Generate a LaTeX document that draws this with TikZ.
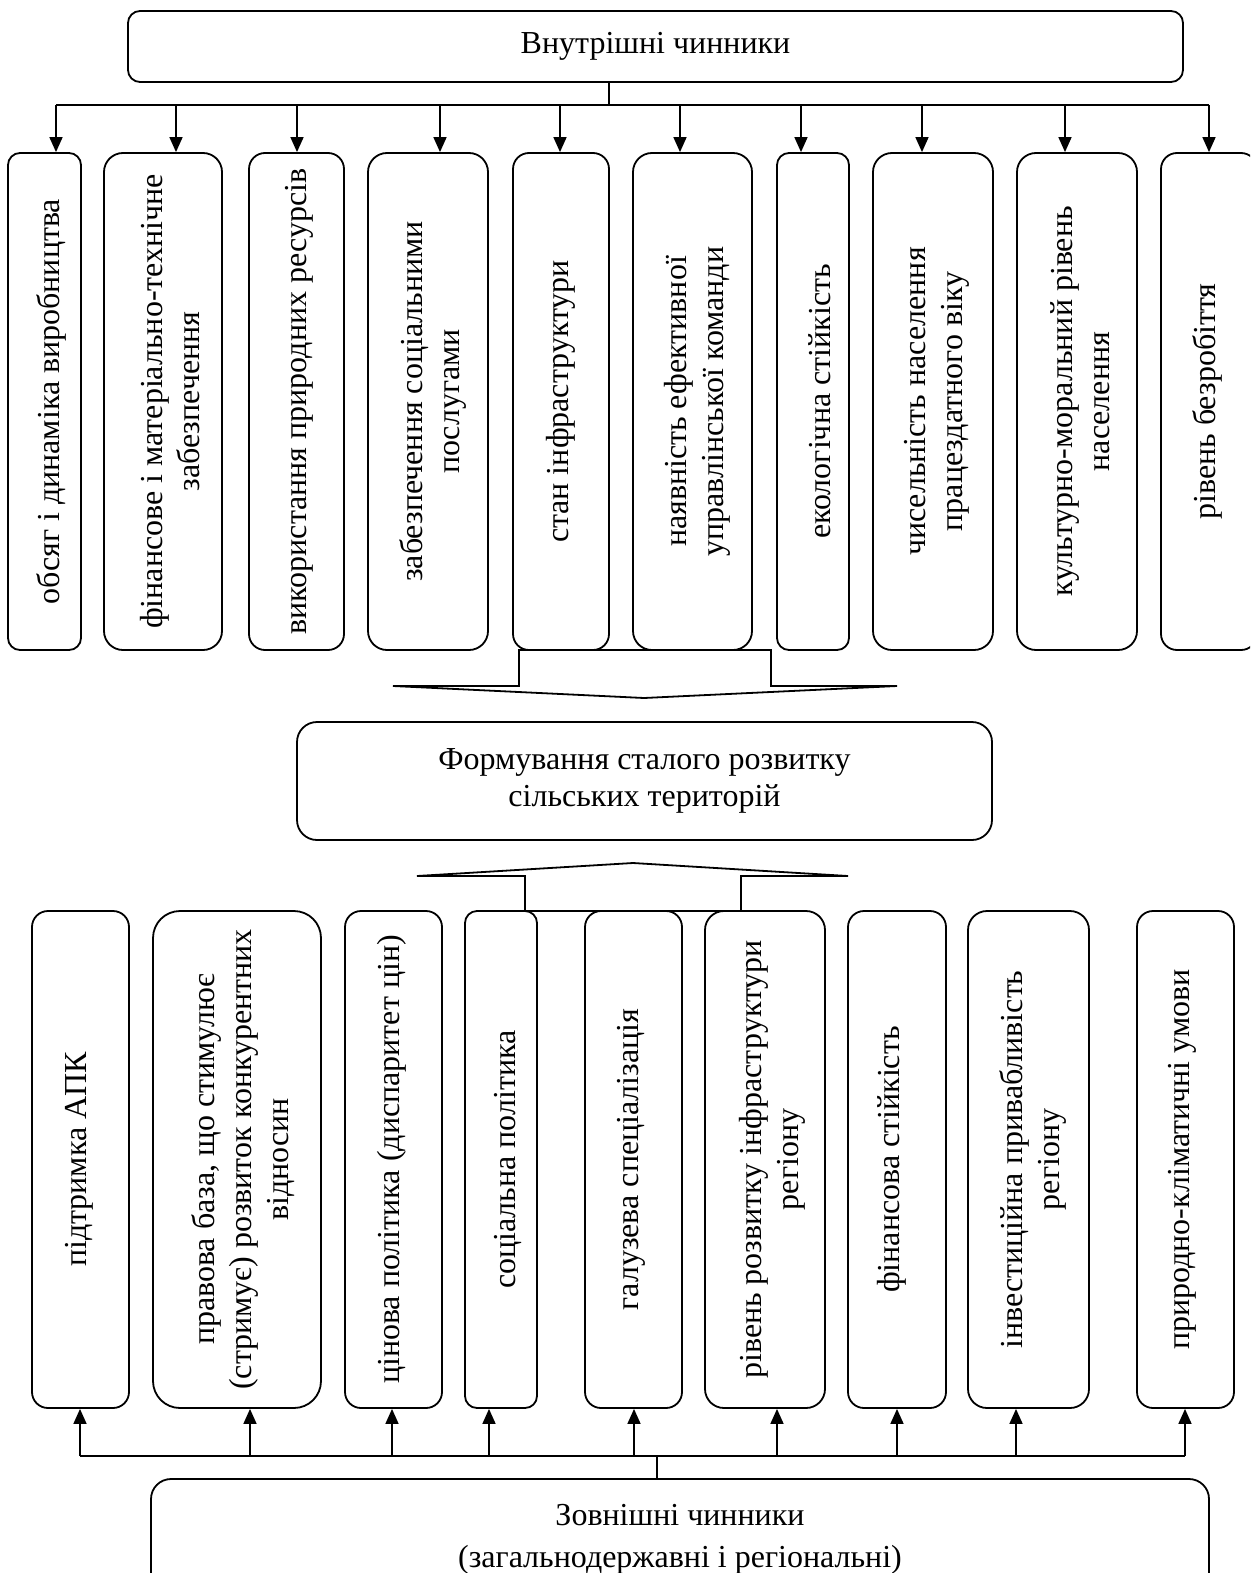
\documentclass[tikz,border=0pt]{standalone}
\usepackage{fontspec}
\setmainfont{Liberation Serif}
\usetikzlibrary{arrows.meta,calc}
\tikzset{
  rbox/.style={draw, line width=1.8pt, rounded corners=#1, inner sep=0pt},
  vtext/.style={rotate=90, align=center, inner sep=0pt, font=\fontsize{32}{37}\selectfont},
  htext/.style={align=center, inner sep=0pt, font=\fontsize{32}{37}\selectfont},
  arr/.style={line width=1.6pt, -{Triangle[length=15pt,width=13pt]}},
  busline/.style={line width=2.2pt},
  stem/.style={line width=1.1pt},
  funnel/.style={line width=1.8pt, line join=miter}
}
\begin{document}
\begin{tikzpicture}[x=1pt,y=-1pt]
\useasboundingbox (0,0) rectangle (1250,1573);
\clip (0,0) rectangle (1250,1573);

% ---------- top ----------
\node[rbox=12pt, minimum width=1055pt, minimum height=71pt] (top) at (655.5,46.5) {};
\node[htext] (toptxt) at (655.5,46.5) {Внутрішні чинники};
\coordinate (busT) at (609,105);
\draw[stem] (top.south -| busT) -- (busT);

\node[rbox=12pt, minimum width=73pt,  minimum height=497pt] (t1)  at (44.5,401.5) {};
\node[rbox=19pt, minimum width=118pt, minimum height=497pt] (t2)  at (163,401.5) {};
\node[rbox=16pt, minimum width=95pt,  minimum height=497pt] (t3)  at (296.5,401.5) {};
\node[rbox=19pt, minimum width=120pt, minimum height=497pt] (t4)  at (428,401.5) {};
\node[rbox=16pt, minimum width=96pt,  minimum height=497pt] (t5)  at (561,401.5) {};
\node[rbox=19pt, minimum width=119pt, minimum height=497pt] (t6)  at (692.5,401.5) {};
\node[rbox=12pt, minimum width=72pt,  minimum height=497pt] (t7)  at (813,401.5) {};
\node[rbox=19pt, minimum width=120pt, minimum height=497pt] (t8)  at (933,401.5) {};
\node[rbox=19pt, minimum width=120pt, minimum height=497pt] (t9)  at (1077,401.5) {};
\node[rbox=16pt, minimum width=96pt,  minimum height=497pt] (t10) at (1209,401.5) {};

\node[vtext] (l1)  at (51,401.5)   {обсяг і динаміка виробництва};
\node[vtext] (l2)  at (170,401.5)  {фінансове і матеріально-технічне\\забезпечення};
\node[vtext] (l3)  at (299,401.5)  {використання природних ресурсів};
\node[vtext] (l4)  at (433,401.5)  {забезпечення соціальними\\послугами};
\node[vtext] (l5)  at (561,401.5)  {стан інфраструктури};
\node[vtext] (l6)  at (697,401.5)  {наявність ефективної\\управлінської команди};
\node[vtext] (l7)  at (820,401.5)  {екологічна стійкість};
\node[vtext] (l8)  at (937,401.5)  {чисельність населення\\працездатного віку};
\node[vtext] (l9)  at (1080,401.5) {культурно-моральний рівень\\населення};
\node[vtext] (l10) at (1207,401.5) {рівень безробіття};

\coordinate (a1)  at ($(t1.north)+(11.5,0)$);
\coordinate (a2)  at ($(t2.north)+(13,0)$);
\coordinate (a3)  at ($(t3.north)+(0.5,0)$);
\coordinate (a4)  at ($(t4.north)+(12,0)$);
\coordinate (a5)  at ($(t5.north)+(-1,0)$);
\coordinate (a6)  at ($(t6.north)+(-12.5,0)$);
\coordinate (a7)  at ($(t7.north)+(-12,0)$);
\coordinate (a8)  at ($(t8.north)+(-11,0)$);
\coordinate (a9)  at ($(t9.north)+(-12,0)$);
\coordinate (a10) at ($(t10.north)+(0,0)$);
\draw[busline] (a1 |- busT) -- (a10 |- busT);
\foreach \i in {1,...,10} {\draw[arr] (a\i |- busT) -- (a\i);}

% top funnel (arrow down)
\draw[funnel] (519,650) -- (519,686) -- (393,686) -- (644,698) -- (897,686) -- (771,686) -- (771,650) -- cycle;

% ---------- middle ----------
\node[rbox=20pt, minimum width=695pt, minimum height=118pt] (mid) at (644.5,781) {};
\node[htext] (midtxt) at (644.5,781) {Формування сталого розвитку\\сільських територій};

% bottom funnel (arrow up)
\draw[funnel] (525,911) -- (525,876) -- (417,876) -- (633,863) -- (848,876) -- (741,876) -- (741,911) -- cycle;

% ---------- bottom row ----------
\node[rbox=16pt, minimum width=97pt,  minimum height=497pt] (b1) at (80.5,1159.5) {};
\node[rbox=27pt, minimum width=168pt, minimum height=497pt] (b2) at (237,1159.5) {};
\node[rbox=16pt, minimum width=97pt,  minimum height=497pt] (b3) at (393.5,1159.5) {};
\node[rbox=12pt, minimum width=72pt,  minimum height=497pt] (b4) at (501,1159.5) {};
\node[rbox=16pt, minimum width=97pt,  minimum height=497pt] (b5) at (633.5,1159.5) {};
\node[rbox=19pt, minimum width=120pt, minimum height=497pt] (b6) at (765,1159.5) {};
\node[rbox=16pt, minimum width=98pt,  minimum height=497pt] (b7) at (897,1159.5) {};
\node[rbox=19pt, minimum width=121pt, minimum height=497pt] (b8) at (1028.5,1159.5) {};
\node[rbox=16pt, minimum width=97pt,  minimum height=497pt] (b9) at (1185.5,1159.5) {};

\node[vtext] (m1) at (79,1159.5)   {підтримка АПК};
\node[vtext] (m2) at (243,1159.5)  {правова база, що стимулює\\(стримує) розвиток конкурентних\\відносин};
\node[vtext] (m3) at (392,1159.5)  {цінова політика (диспаритет цін)};
\node[vtext] (m4) at (508,1159.5)  {соціальна політика};
\node[vtext] (m5) at (631,1159.5)  {галузева спеціалізація};
\node[vtext] (m6) at (772,1159.5)  {рівень розвитку інфраструктури\\регіону};
\node[vtext] (m7) at (892,1159.5)  {фінансова стійкість};
\node[vtext] (m8) at (1033,1159.5) {інвестиційна привабливість\\регіону};
\node[vtext] (m9) at (1182,1159.5) {природно-кліматичні умови};

\coordinate (busB) at (657,1456);
\coordinate (c1) at ($(b1.south)+(-0.5,0)$);
\coordinate (c2) at ($(b2.south)+(13,0)$);
\coordinate (c3) at ($(b3.south)+(-1.5,0)$);
\coordinate (c4) at ($(b4.south)+(-12,0)$);
\coordinate (c5) at ($(b5.south)+(0.5,0)$);
\coordinate (c6) at ($(b6.south)+(12,0)$);
\coordinate (c7) at ($(b7.south)+(0,0)$);
\coordinate (c8) at ($(b8.south)+(-12.5,0)$);
\coordinate (c9) at ($(b9.south)+(-0.5,0)$);
\draw[busline] (c1 |- busB) -- (c9 |- busB);
\foreach \i in {1,...,9} {\draw[arr] (c\i |- busB) -- (c\i);}

% ---------- bottom box ----------
\node[rbox=20pt, minimum width=1058pt, minimum height=131pt] (bot) at (680,1544.5) {};
\draw[stem] (busB) -- (busB |- bot.north);
\node[htext, anchor=base] (bt1) at (680,1525) {Зовнішні чинники};
\node[htext, anchor=base] (bt2) at (680,1567) {(загальнодержавні і регіональні)};
\end{tikzpicture}
\end{document}
